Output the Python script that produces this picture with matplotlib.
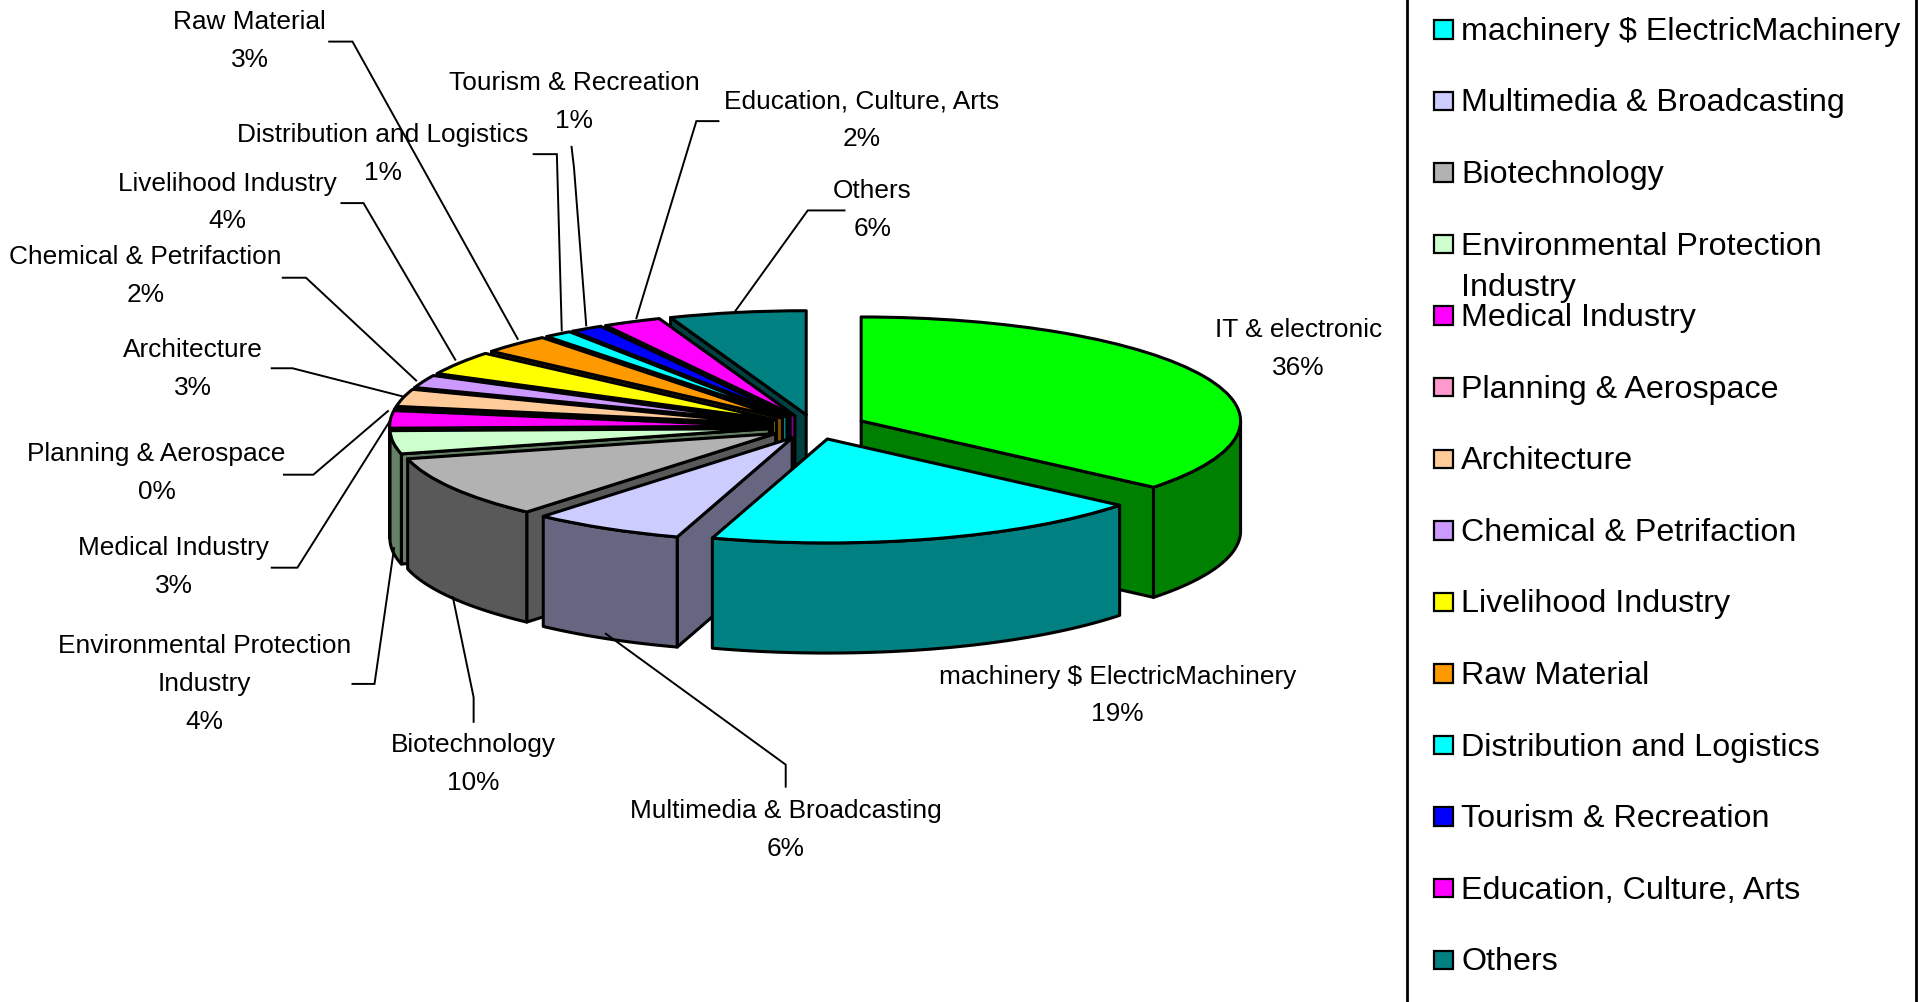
import numpy as np
import matplotlib
matplotlib.use("Agg")
import matplotlib.pyplot as plt
from matplotlib.patches import Rectangle

plt.rcParams['font.family'] = ['Liberation Sans', 'DejaVu Sans']

# ---- data ----
categories = ["IT & electronic", "machinery $ ElectricMachinery", "Multimedia & Broadcasting",
              "Biotechnology", "Environmental Protection\nIndustry", "Medical Industry",
              "Planning & Aerospace", "Architecture", "Chemical & Petrifaction",
              "Livelihood Industry", "Raw Material", "Distribution and Logistics",
              "Tourism & Recreation", "Education, Culture, Arts", "Others"]
shares = [36.0, 18.9, 6.49, 9.7, 3.6, 2.7, 0.3, 2.7, 2.0, 3.7, 3.0, 1.2, 1.4, 2.49, 5.82]
top_colors = ["#00ff00", "#00ffff", "#ccccff", "#b2b2b2", "#ccffcc", "#ff00ff", "#ff99cc",
              "#ffcc99", "#cc99ff", "#ffff00", "#ff9900", "#00ffff", "#0000ff", "#ff00ff", "#008080"]
legend_order = list(range(1, 15))

# ---- layout (in the 1568x819 reference view) ----
FIG_W, FIG_H = 1919, 1002
VIEW_W, VIEW_H = 1568, 819
CX, CY = 665.5, 349
RX, RY = 310, 85
DEPTH = 90
EXPLODE = [0.136] + [0.12] * 14
label_pos = {0: (1061, 270), 1: (913, 553), 2: (642, 663), 3: (387, 609), 4: (167, 528), 5: (142, 448),
             6: (128, 371), 7: (158, 286), 8: (119, 210), 9: (186, 150), 10: (204, 18), 11: (313, 110),
             12: (469, 68), 13: (704, 83), 14: (713, 156)}
leaders = {
    2: [(642, 643), (642, 625), (495, 518)],
    3: [(387, 590), (387, 570), (370, 488)],
    4: [(288, 559), (306, 559), (322, 448)],
    5: [(222, 464), (243, 464), (318, 345)],
    6: [(232, 388), (256, 388), (317, 336)],
    7: [(222, 301), (239, 301), (329, 324)],
    8: [(231, 227), (250, 227), (340, 311)],
    9: [(279, 166), (297, 166), (372, 294)],
    10: [(269, 34), (288, 34), (423, 277)],
    11: [(436, 126), (455, 126), (459, 270)],
    12: [(467, 120), (469, 137), (479, 266)],
    13: [(587, 99), (569, 99), (520, 260)],
    14: [(690, 172), (660, 172), (601, 254)],
}
LABEL_FS = 18.9
LEGEND_FS = 23.2
LINE_STEP = 31

fig = plt.figure(figsize=(FIG_W / 100, FIG_H / 100), dpi=100, facecolor="white")
ax = fig.add_axes([0, 0, 1, 1])

wedges, _ = ax.pie(shares, colors=top_colors, startangle=90, counterclock=False,
                   explode=EXPLODE, radius=1.0,
                   wedgeprops=dict(edgecolor="black", linewidth=2.2))
ax.set_aspect("auto")
ax.set_xlim(-CX / RX, (VIEW_W - CX) / RX)
ax.set_ylim((CY - VIEW_H) / RY, CY / RY)
ax.axis("off")

depth = DEPTH / RY


def shade(c):
    return tuple(v * 0.5 for v in matplotlib.colors.to_rgb(c))


def extruded(xs, ys):
    xs, ys = np.asarray(xs), np.asarray(ys)
    return np.r_[xs, xs[::-1]], np.r_[ys, ys[::-1] - depth]


mids = [np.deg2rad((w.theta1 + w.theta2) / 2) for w in wedges]
order = np.argsort([-np.sin(m) for m in mids])
for k, idx in enumerate(order):
    w = wedges[idx]
    (cx, cy), t1, t2 = w.center, w.theta1, w.theta2
    side = shade(top_colors[idx])
    z = 10 + 3 * k
    kw = dict(facecolor=side, edgecolor="black", linewidth=2.2, zorder=z, joinstyle="round")
    # radial cut faces turned to the viewer
    for t, visible in ((t1, np.cos(np.deg2rad(t1)) > 1e-6), (t2, np.cos(np.deg2rad(t2)) < -1e-6)):
        if visible:
            a = np.deg2rad(t)
            px, py = extruded([cx, cx + np.cos(a)], [cy, cy + np.sin(a)])
            ax.fill(px, py, **kw)
    # outer rim on the front half
    th = np.deg2rad(np.linspace(t1, t2, max(int(t2 - t1) * 2, 4)))
    th = th[np.sin(th) <= 0.001]
    if len(th) > 1:
        px, py = extruded(cx + np.cos(th), cy + np.sin(th))
        kw2 = dict(kw, zorder=z + 1)
        ax.fill(px, py, **kw2)
    w.set_zorder(z + 2)
    w.set_joinstyle("round")

# overlay in reference view coordinates
ov = fig.add_axes([0, 0, 1, 1], facecolor="none")
ov.set_xlim(0, VIEW_W)
ov.set_ylim(VIEW_H, 0)
ov.axis("off")

for i, name in enumerate(categories):
    x, y = label_pos[i]
    lines = name.split("\n") + [f"{round(shares[i]):d}%"]
    for j, line in enumerate(lines):
        ov.text(x, y + j * LINE_STEP, line, ha="center", va="center", fontsize=LABEL_FS, color="black")

for pts in leaders.values():
    xs, ys = zip(*pts)
    ov.plot(xs, ys, color="black", lw=1.4, solid_joinstyle="miter")

# legend
for xb in (1150, 1565.5):
    ov.plot([xb, xb], [0, VIEW_H], color="black", lw=2)
LEG_Y0, LEG_STEP = 26, 58.5
for row, idx in enumerate(legend_order):
    y = LEG_Y0 + row * LEG_STEP
    ov.add_patch(Rectangle((1172, y - 9.5), 15, 15, facecolor=top_colors[idx], edgecolor="black", lw=1.6))
    lines = categories[idx].split("\n")
    for j, line in enumerate(lines):
        ov.text(1194, y + j * 34, line, ha="left", va="center", fontsize=LEGEND_FS, color="black")

fig.savefig("out.png", dpi=100)
